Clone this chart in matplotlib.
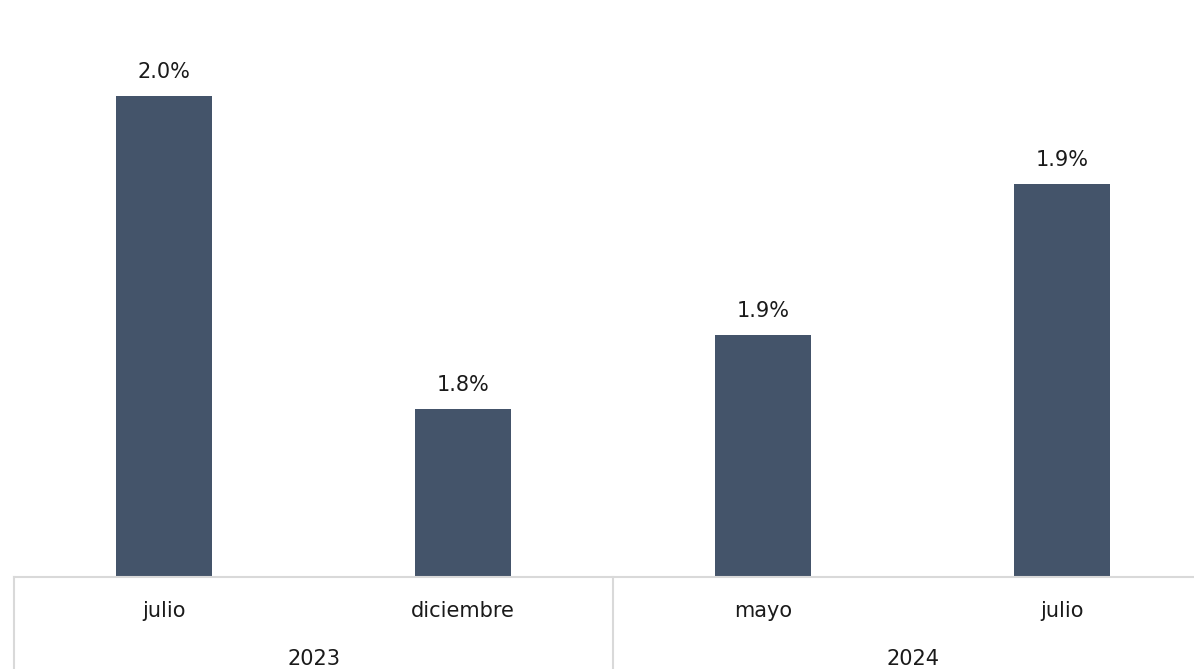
import matplotlib.pyplot as plt
import matplotlib.transforms as mtransforms

meses = ["julio", "diciembre", "mayo", "julio"]
anios = ["2023", "2024"]
valores = [2.00, 1.805, 1.851, 1.945]

plt.rcParams["font.family"] = ["DejaVu Sans"]

W, H = 1194, 669
fig = plt.figure(figsize=(W / 100, H / 100), dpi=100)
base = 577
ax = fig.add_axes([14 / W, (H - base) / H, 1198 / W, (base - 16) / H])

x = list(range(len(valores)))
ax.bar(x, valores, width=0.32, color="#44546a", zorder=2)
ax.set_xlim(-0.5, 3.5)
ax.set_ylim(1.7, 2.05)

# value labels
for xi, v in zip(x, valores):
    ax.annotate(f"{v:.1f}%", (xi, v), xytext=(0, 14), textcoords="offset pixels",
                ha="center", va="bottom", fontsize=15, color="#1a1a1a")

for s in ["top", "right", "left"]:
    ax.spines[s].set_visible(False)
ax.spines["bottom"].set_color("#d9d9d9")
ax.spines["bottom"].set_linewidth(1.5)
ax.set_xticks([])
ax.set_yticks([])

# category labels (two levels)
for xi, m in zip(x, meses):
    ax.annotate(m, (xi, 0), xycoords=("data", "axes fraction"), xytext=(0, -34),
                textcoords="offset pixels", ha="center", va="center",
                fontsize=15, color="#1a1a1a")
for i, a in enumerate(anios):
    ax.annotate(a, (2 * i + 0.5, 0), xycoords=("data", "axes fraction"), xytext=(0, -82),
                textcoords="offset pixels", ha="center", va="center",
                fontsize=15, color="#1a1a1a")

trans = mtransforms.blended_transform_factory(ax.transData, fig.transFigure)
for xs in [-0.5, 1.5, 3.5]:
    ax.plot([xs, xs], [0, (H - base) / H], transform=trans, color="#d9d9d9",
            lw=1.5, clip_on=False)

fig.savefig("out.png", dpi=100)
